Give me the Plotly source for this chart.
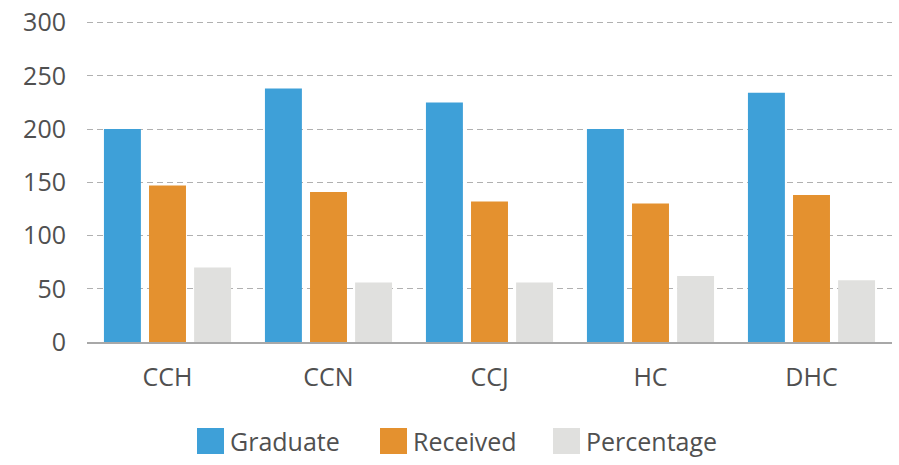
import plotly.graph_objects as go

categories = ["CCH", "CCN", "CCJ", "HC", "DHC"]
graduate = [200, 238, 225, 200, 234]
received = [147, 141, 132, 130, 138]
percentage = [70, 56, 56, 62, 58]

series_names = ["Graduate", "Received", "Percentage"]
series_values = [graduate, received, percentage]
colors = ["#3ea0d8", "#e4912f", "#e0e0de"]

W, H = 899, 465
L, R, T, B = 87, 7, 21, 123
pw, ph = W - L - R, H - T - B


def px_x(px):
    return (px - L) / pw


def px_y(py):
    return (H - B - py) / ph


fig = go.Figure()
for name, vals, c in zip(series_names, series_values, colors):
    fig.add_trace(go.Bar(name=name, x=categories, y=vals, marker_color=c,
                         marker_line_width=0, showlegend=False))

# legenda manual (quadrados grandes como no original)
font = "Open Sans, Lato, sans-serif"
sq_left = [197, 380, 553]
for name, c, px in zip(series_names, colors, sq_left):
    fig.add_shape(type="rect", xref="paper", yref="paper",
                  x0=px_x(px), x1=px_x(px + 27), y0=px_y(454), y1=px_y(428),
                  fillcolor=c, line_width=0)
    fig.add_annotation(xref="paper", yref="paper", x=px_x(px + 31), y=px_y(441),
                       text=name, showarrow=False, xanchor="left", yanchor="middle",
                       font=dict(family=font, size=25, color="#505050"))

fig.update_layout(
    width=W, height=H,
    margin=dict(l=L, r=R, t=T, b=B),
    plot_bgcolor="white", paper_bgcolor="white",
    barmode="group", bargap=0.16, bargroupgap=0.18,
    font=dict(family=font, color="#505050"),
)
fig.update_yaxes(range=[0, 301.5], tickvals=[0, 50, 100, 150, 200, 250, 300],
                 showgrid=True, gridcolor="#b0b0b0", gridwidth=1, griddash="6px,4px",
                 zeroline=False, showline=False, tickfont=dict(size=25),
                 ticklabelstandoff=20, ticklabeloverflow="allow", automargin=False)
fig.update_xaxes(showline=True, linecolor="#a8a8a8", linewidth=2,
                 tickfont=dict(size=25), ticklabelstandoff=12, automargin=False)

# tira a margem padrão do body para o gráfico ocupar a janela inteira
fig.write_html("out.html", config={"displayModeBar": False},
               post_script="document.body.style.margin='0';")
